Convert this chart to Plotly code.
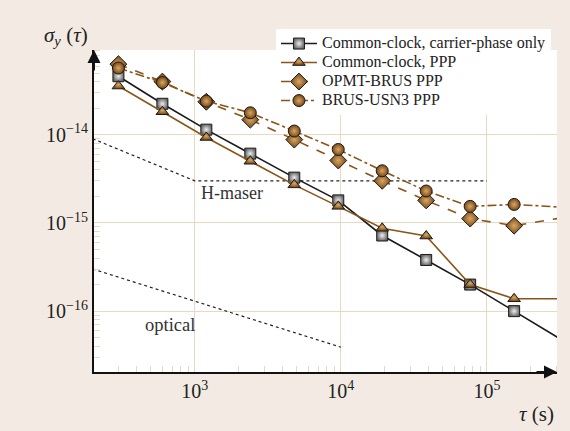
import plotly.graph_objects as go

tau = [300, 600, 1200, 2400, 4800, 9600, 19200, 38400, 76800, 153600, 614400]

cc_carrier = [4.6e-14, 2.24e-14, 1.14e-14, 6.1e-15, 3.26e-15, 1.8e-15, 7.2e-16, 3.8e-16, 2.0e-16, 1.0e-16, 2.5e-17]
cc_ppp = [3.56e-14, 1.82e-14, 9.3e-15, 5.0e-15, 2.7e-15, 1.54e-15, 8.7e-16, 7.1e-16, 2.0e-16, 1.38e-16, 1.38e-16]
opmt_brus = [6.3e-14, 4.0e-14, 2.36e-14, 1.48e-14, 8.8e-15, 5.1e-15, 3.0e-15, 1.8e-15, 1.12e-15, 9.3e-16, 1.36e-15]
brus_usn3 = [5.7e-14, 3.9e-14, 2.4e-14, 1.77e-14, 1.1e-14, 6.8e-15, 3.9e-15, 2.3e-15, 1.54e-15, 1.62e-15, 1.42e-15]

hmaser_tau = [200, 1000, 100000]
hmaser_val = [9.0e-15, 3.0e-15, 3.0e-15]
optical_tau = [200, 10000]
optical_val = [3.0e-16, 3.9e-17]

legend_names = ["Common-clock, carrier-phase only", "Common-clock, PPP", "OPMT-BRUS PPP", "BRUS-USN3 PPP"]

BROWN = "#8a5518"
MARK_BROWN = "#7a4812"
BEIGE = "#f3ebe3"
GRID = "#e8d8c4"
SERIF = "Liberation Serif, Times New Roman, serif"

def lg(name):
    return '<span style="font-size:16px">' + name + '</span>'

fig = go.Figure()

fig.add_trace(go.Scatter(x=hmaser_tau, y=hmaser_val, mode="lines", showlegend=False,
                         line=dict(color="#222", width=1.2, dash="dot"), hoverinfo="skip"))
fig.add_trace(go.Scatter(x=optical_tau, y=optical_val, mode="lines", showlegend=False,
                         line=dict(color="#222", width=1.2, dash="dot"), hoverinfo="skip"))

def mk(symbol, color, center, size):
    return dict(symbol=symbol, size=size, color=color,
                gradient=dict(type="radial", color=center),
                line=dict(color="#1a1a1a", width=1))

fig.add_trace(go.Scatter(x=tau, y=cc_carrier, mode="lines+markers", name=lg(legend_names[0]),
                         line=dict(color="#1a1a1a", width=1.6),
                         marker=mk("square", "#6a6a6a", "#eeeeee", 11)))
fig.add_trace(go.Scatter(x=tau, y=cc_ppp, mode="lines+markers", name=lg(legend_names[1]),
                         line=dict(color=BROWN, width=1.6),
                         marker=mk("triangle-up", MARK_BROWN, "#d8a868", 11)))
fig.add_trace(go.Scatter(x=tau, y=opmt_brus, mode="lines+markers", name=lg(legend_names[2]),
                         line=dict(color=BROWN, width=1.6, dash="dash"),
                         marker=mk("diamond", MARK_BROWN, "#d8a868", 13)))
fig.add_trace(go.Scatter(x=tau, y=brus_usn3, mode="lines+markers", name=lg(legend_names[3]),
                         line=dict(color=BROWN, width=1.6, dash="dashdot"),
                         marker=mk("circle", MARK_BROWN, "#d8a868", 12)))

x_minor = [m * 10 ** e for e in (2, 3, 4, 5) for m in range(2, 10)]
y_minor = [m * 10 ** e for e in (-17, -16, -15, -14) for m in range(2, 10)]

fig.update_layout(
    width=570, height=431,
    margin=dict(l=94, r=13, t=50, b=59),
    paper_bgcolor=BEIGE, plot_bgcolor="white",
    font=dict(family=SERIF, size=15, color="#222"),
    legend=dict(x=0.393, y=1.065, xanchor="left", yanchor="top",
                bgcolor="white", borderwidth=0, font=dict(size=12, family=SERIF, color="#222"),
                tracegroupgap=0, itemwidth=36),
    xaxis=dict(type="log", range=[2.31, 5.48], showgrid=True, gridcolor=GRID, gridwidth=1.3,
               tickvals=[1e3, 1e4, 1e5],
               ticktext=["10<sup>3</sup>", "10<sup>4</sup>", "10<sup>5</sup>"],
               tickfont=dict(size=20, family=SERIF), ticks="", showline=True,
               linecolor="#111", linewidth=2, zeroline=False,
               minor=dict(tickvals=x_minor, ticks="inside", ticklen=6, tickcolor=GRID,
                          tickwidth=1.3, showgrid=False)),
    yaxis=dict(type="log", range=[-16.69, -13.04], showgrid=True, gridcolor=GRID, gridwidth=1.3,
               tickvals=[1e-16, 1e-15, 1e-14],
               ticktext=["10<sup>−16</sup>", "10<sup>−15</sup>", "10<sup>−14</sup>"],
               tickfont=dict(size=20, family=SERIF), ticks="", showline=True,
               linecolor="#111", linewidth=2, zeroline=False,
               minor=dict(tickvals=y_minor, ticks="inside", ticklen=6, tickcolor=GRID,
                          tickwidth=1.3, showgrid=False)),
)

fig.add_annotation(xref="paper", yref="paper", x=1.0, y=0, ax=-22, ay=0, text="",
                   showarrow=True, arrowhead=2, arrowsize=1.3, arrowwidth=2, arrowcolor="#111")
fig.add_annotation(xref="paper", yref="paper", x=0, y=1.0, ax=0, ay=22, text="",
                   showarrow=True, arrowhead=2, arrowsize=1.3, arrowwidth=2, arrowcolor="#111")

fig.add_annotation(xref="paper", yref="paper", x=0.227, y=0.556, xanchor="left", yanchor="middle",
                   text="H-maser", showarrow=False, font=dict(size=18, family=SERIF, color="#333"))
fig.add_annotation(xref="paper", yref="paper", x=0.105, y=0.146, xanchor="left", yanchor="middle",
                   text="optical", showarrow=False, font=dict(size=18.5, family=SERIF, color="#333"))
fig.add_annotation(xref="paper", yref="paper", x=-0.060, y=1.043, xanchor="center", yanchor="middle",
                   text="<i>σ<sub>y</sub></i> (<i>τ</i>)", showarrow=False,
                   font=dict(size=21, family=SERIF, color="#222"))
fig.add_annotation(xref="paper", yref="paper", x=0.956, y=-0.13, xanchor="center", yanchor="middle",
                   text="<i>τ</i> (s)", showarrow=False, font=dict(size=21, family=SERIF, color="#222"))

fig.write_html("out.html")
